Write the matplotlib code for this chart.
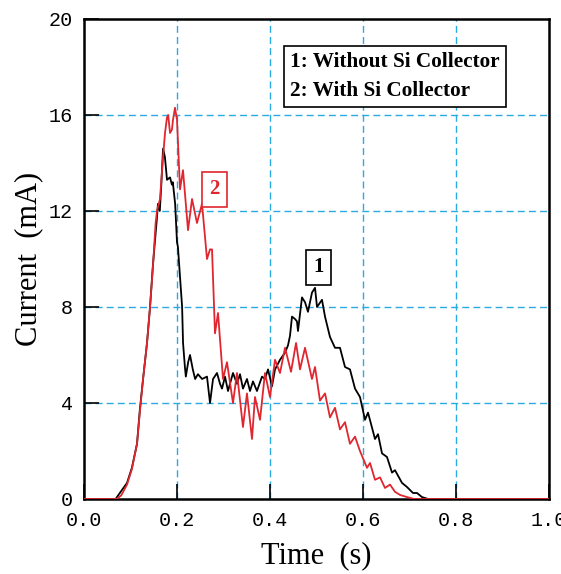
import numpy as np
import matplotlib
matplotlib.use("Agg")
import matplotlib.pyplot as plt

# curve 1: without Si collector (black)
t1 = [0.0, 0.068, 0.077, 0.0925, 0.103, 0.114, 0.120, 0.127, 0.1355, 0.142,
      0.148, 0.157, 0.159, 0.163, 0.166, 0.170, 0.174, 0.1785, 0.185, 0.189,
      0.191, 0.196, 0.200, 0.202, 0.2065, 0.211, 0.213, 0.217, 0.219, 0.224,
      0.228, 0.234, 0.239, 0.245, 0.254, 0.2645, 0.271, 0.2775, 0.286, 0.2925,
      0.2968, 0.3032, 0.3097, 0.3204, 0.329, 0.3355, 0.3419, 0.3505, 0.357, 0.3634,
      0.372, 0.3828, 0.3892, 0.3957, 0.4043, 0.4108, 0.4215, 0.4323, 0.4387, 0.443,
      0.4473, 0.4538, 0.458, 0.4602, 0.4688, 0.4753, 0.4817, 0.4903, 0.4968, 0.5011,
      0.5118, 0.5183, 0.529, 0.5398, 0.5505, 0.5613, 0.572, 0.5828, 0.5935, 0.6043,
      0.6108, 0.6258, 0.6323, 0.6409, 0.6516, 0.6624, 0.6688, 0.6839, 0.6946, 0.7075,
      0.7161, 0.7269, 0.74, 1.0]
i1 = [0, 0, 0.25, 0.67, 1.3, 2.3, 3.7, 5.0, 6.5, 8.0,
      9.7, 11.75, 12.3, 12.0, 13.0, 14.6, 14.25, 13.3, 13.4, 13.1,
      13.2, 12.3, 10.7, 10.5, 9.25, 8.0, 6.5, 5.5, 5.1, 5.7,
      6.0, 5.4, 5.0, 5.2, 5.0, 5.1, 4.0, 5.0, 5.25, 4.8,
      4.6, 5.1, 4.5, 5.25, 4.8, 5.2, 4.6, 5.0, 4.5, 4.9,
      4.5, 5.1, 5.0, 5.4, 4.7, 5.4, 5.8, 6.1, 6.4, 6.8,
      7.6, 7.5, 7.4, 7.0, 8.4, 8.2, 7.8, 8.6, 8.8, 8.0,
      8.3, 7.6, 6.75, 6.3, 6.3, 5.5, 5.4, 4.6, 4.25, 3.3,
      3.6, 2.5, 2.7, 1.9, 1.75, 1.1, 1.2, 0.67, 0.5, 0.25,
      0.25, 0.08, 0, 0]

# curve 2: with Si collector (red)
t2 = [0.0, 0.07, 0.08, 0.0925, 0.103, 0.114, 0.120, 0.127, 0.1355, 0.142,
      0.148, 0.154, 0.157, 0.1634, 0.170, 0.1742, 0.1785, 0.181, 0.185, 0.1892,
      0.1914, 0.1957, 0.2, 0.2022, 0.2065, 0.2129, 0.2237, 0.2323, 0.243, 0.2538,
      0.2645, 0.271, 0.2753, 0.2817, 0.2882, 0.2989, 0.3075, 0.3204, 0.329, 0.3419,
      0.3505, 0.3613, 0.3677, 0.3785, 0.3892, 0.4, 0.4108, 0.4215, 0.4323, 0.4452,
      0.456, 0.4645, 0.4753, 0.4903, 0.4968, 0.5075, 0.5183, 0.529, 0.5398, 0.5505,
      0.5613, 0.572, 0.5828, 0.5935, 0.6086, 0.6151, 0.6258, 0.6366, 0.6473, 0.6581,
      0.6688, 0.6796, 0.6946, 0.71, 1.0]
i2 = [0, 0, 0.15, 0.6, 1.25, 2.3, 3.6, 5.0, 6.5, 8.0,
      9.6, 11.5, 12.0, 12.5, 14.25, 15.25, 15.9, 16.0, 15.25, 15.4,
      15.8, 16.3, 15.8, 14.8, 12.9, 13.7, 11.2, 12.5, 11.5, 12.3,
      10.0, 10.4, 10.4, 6.9, 7.75, 5.0, 5.7, 4.0, 5.25, 3.0,
      4.4, 2.5, 4.25, 3.3, 5.25, 4.25, 5.8, 5.25, 6.3, 5.3,
      6.5, 5.4, 6.3, 5.0, 5.5, 4.1, 4.4, 3.4, 3.8, 2.9,
      3.2, 2.3, 2.6, 2.0, 1.3, 1.5, 0.8, 0.9, 0.46, 0.6,
      0.3, 0.17, 0.08, 0, 0]

xticks = [0.0, 0.2, 0.4, 0.6, 0.8, 1.0]
yticks = [0, 4, 8, 12, 16, 20]
legend_lines = ["1: Without Si Collector", "2: With Si Collector"]

grid_col = "#29abe2"
red = "#e0262f"

fig = plt.figure(figsize=(5.61, 5.74), dpi=100)
ax = fig.add_axes([84/561, 1 - 499/574, 465/561, 480/574])

ax.plot(t1, i1, color="black", lw=1.3, zorder=3)
ax.plot(t2, i2, color=red, lw=1.3, zorder=3)

ax.set_xlim(0, 1)
ax.set_ylim(0, 20)
ax.set_xticks(xticks)
ax.set_yticks(yticks)
ax.set_xticklabels(["%.1f" % v for v in xticks])
for lab in ax.get_xticklabels() + ax.get_yticklabels():
    lab.set_family("Liberation Mono")
    lab.set_fontsize(14.5)
ax.tick_params(direction="in", length=11, width=1.2)
ax.tick_params(axis="x", pad=9)
ax.tick_params(axis="y", pad=8)

for v in xticks[1:-1]:
    ax.axvline(v, color=grid_col, ls=(0, (5, 3)), lw=1, zorder=1)
for v in yticks[1:-1]:
    ax.axhline(v, color=grid_col, ls=(0, (5, 3)), lw=1, zorder=1)

for s in ax.spines.values():
    s.set_linewidth(1.8)

ax.set_xlabel("Time  (s)", family="Liberation Serif", fontsize=22, labelpad=8)
ax.set_ylabel("Current  (mA)", family="Liberation Serif", fontsize=22, labelpad=4)

ax.text(0.505, 9.65, "1", family="Liberation Serif", weight="bold", fontsize=15,
        ha="center", va="center", zorder=4,
        bbox=dict(boxstyle="square,pad=0.35", fc="white", ec="black", lw=1.2))
ax.text(0.28, 12.9, "2", family="Liberation Serif", weight="bold", fontsize=15,
        color=red, ha="center", va="center", zorder=4,
        bbox=dict(boxstyle="square,pad=0.35", fc="white", ec=red, lw=1.2))

ax.text(0.444, 17.6, "\n".join(legend_lines), family="Liberation Serif",
        weight="bold", fontsize=15.3, ha="left", va="center", linespacing=1.6,
        zorder=4,
        bbox=dict(boxstyle="square,pad=0.3", fc="white", ec="black", lw=1.2))

fig.savefig("out.png", dpi=100)
